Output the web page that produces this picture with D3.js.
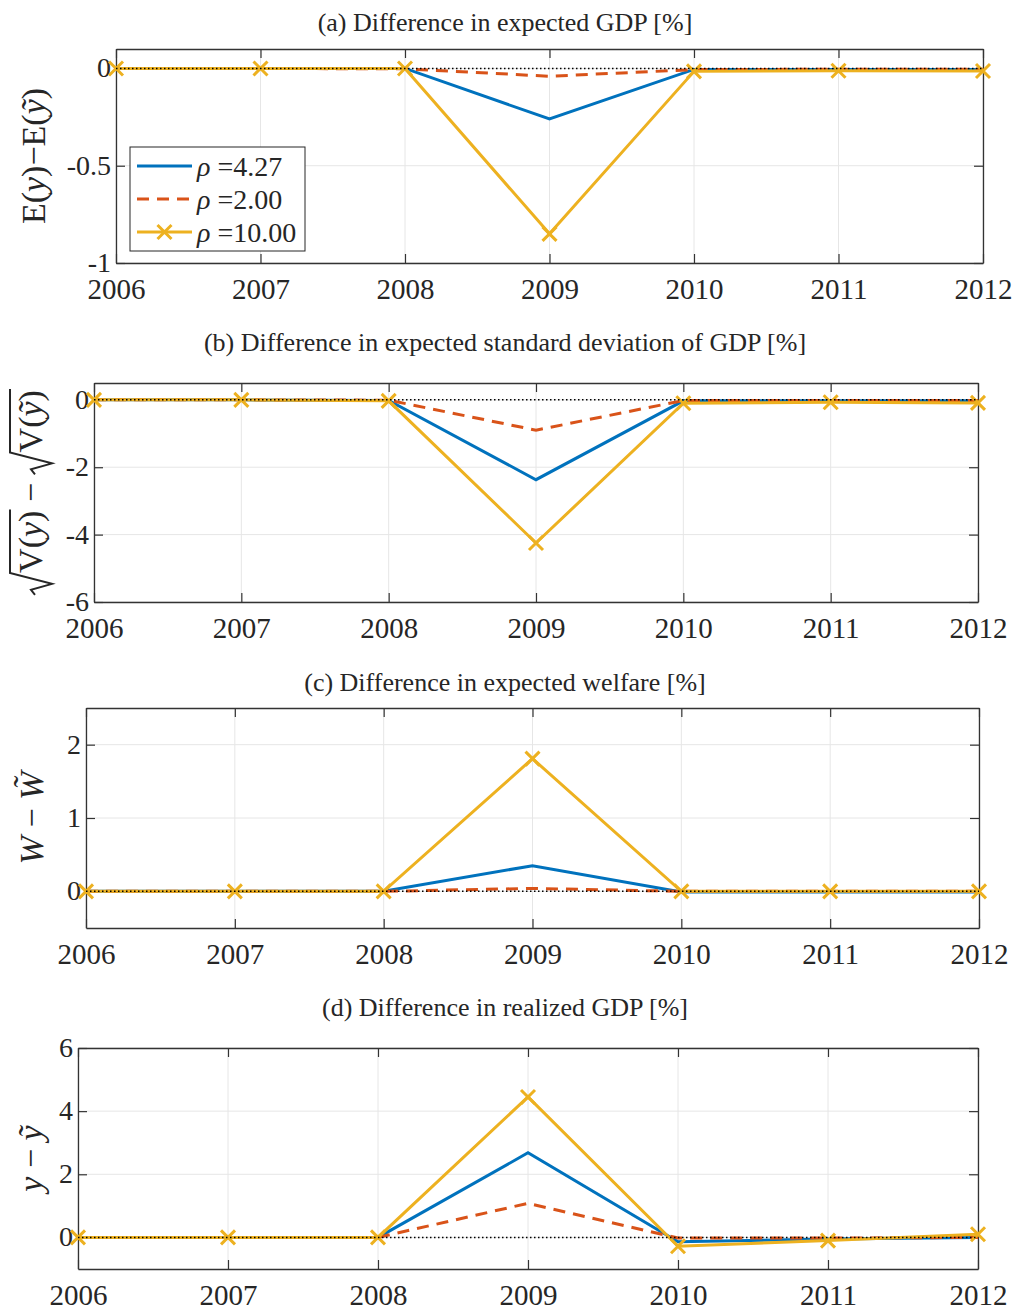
<!DOCTYPE html>
<html>
<head>
<meta charset="utf-8">
<script src="https://cdn.jsdelivr.net/npm/d3@7"></script>
<style>
  body { margin: 0; background: #fff; }
  svg { display: block; }
  text { font-family: "Liberation Serif", "DejaVu Serif", serif; fill: #262626; white-space: pre; }
</style>
</head>
<body>
<div id="fig"></div>
<script>
const years = [2006, 2007, 2008, 2009, 2010, 2011, 2012];
const rhoLabels = ["4.27", "2.00", "10.00"];

// (a) difference in expected GDP
const expGdp427 = [0, 0, 0, -0.26, -0.005, -0.005, -0.005];
const expGdp200 = [0, 0, -0.002, -0.04, -0.006, -0.004, -0.004];
const expGdp1000 = [0, 0, 0, -0.85, -0.015, -0.012, -0.013];

// (b) difference in expected standard deviation of GDP
const stdGdp427 = [0, 0, -0.02, -2.37, -0.03, -0.03, -0.03];
const stdGdp200 = [0, 0, -0.01, -0.9, -0.02, -0.02, -0.02];
const stdGdp1000 = [0, 0, -0.03, -4.25, -0.1, -0.07, -0.09];

// (c) difference in expected welfare
const welfare427 = [0, 0, 0, 0.35, -0.01, -0.01, -0.01];
const welfare200 = [0, 0, 0, 0.04, 0, 0, 0];
const welfare1000 = [0, 0, 0, 1.81, 0, 0, 0];

// (d) difference in realized GDP
const realGdp427 = [0, 0, 0, 2.68, -0.14, -0.05, 0];
const realGdp200 = [0, 0, 0, 1.08, -0.02, -0.02, 0];
const realGdp1000 = [0, 0, 0, 4.45, -0.28, -0.1, 0.1];

const yTicksA = [-1, -0.5, 0];
const yTicksB = [-6, -4, -2, 0];
const yTicksC = [0, 1, 2];
const yTicksD = [0, 2, 4, 6];

const largura = 1017, altura = 1310;
const estilos = [
  { cor: "#0072BD", dash: null, marker: false },
  { cor: "#D95319", dash: "12,8", marker: false },
  { cor: "#EDB120", dash: null, marker: true }
];

const paineis = [
  { titulo: "(a) Difference in expected GDP [%]", tituloY: 22,
    esq: 116, dir: 983, topo: 49, base: 263, dominio: [-1, 0.1], ticks: yTicksA,
    series: [expGdp427, expGdp200, expGdp1000], rotulo: "a", rotX: 34, legenda: true },
  { titulo: "(b) Difference in expected standard deviation of GDP [%]", tituloY: 342,
    esq: 94, dir: 978, topo: 383, base: 602, dominio: [-6, 0.5], ticks: yTicksB,
    series: [stdGdp427, stdGdp200, stdGdp1000], rotulo: "b", rotX: 31 },
  { titulo: "(c) Difference in expected welfare [%]", tituloY: 682,
    esq: 86, dir: 979, topo: 708, base: 928, dominio: [-0.5, 2.5], ticks: yTicksC,
    series: [welfare427, welfare200, welfare1000], rotulo: "c", rotX: 32 },
  { titulo: "(d) Difference in realized GDP [%]", tituloY: 1007,
    esq: 78, dir: 978, topo: 1048, base: 1269, dominio: [-1, 6], ticks: yTicksD,
    series: [realGdp427, realGdp200, realGdp1000], rotulo: "d", rotX: 31 }
];

const svg = d3.select("#fig").append("svg")
  .attr("width", largura)
  .attr("height", altura);

// escreve um pedaço de texto (romano ou italico) e devolve a largura
function pedaco(g, x, txt, italico, tam) {
  const t = g.append("text")
    .attr("x", x).attr("y", 0)
    .style("font-size", tam + "px")
    .style("font-style", italico ? "italic" : "normal")
    .text(txt);
  return t.node().getComputedTextLength();
}

// rotulo vertical do eixo y, montado em partes
function rotuloY(p, cx, cy) {
  const g = svg.append("g").attr("transform", `translate(${cx},${cy}) rotate(-90)`);
  const g2 = g.append("g");
  const tam = 34;
  let x = 0;
  const partes = {
    a: [["E(", false], ["y", true], [")\u2212E(", false], ["y\u0303", true], [")", false]],
    c: [["W", true], [" \u2212 ", false], ["W\u0303", true]],
    d: [["y", true], [" \u2212 ", false], ["y\u0303", true]]
  };
  if (p.rotulo === "b") {
    const raiz = (til) => {
      const x0 = x;
      const wr = 20;
      x += wr + 2;
      const xs = x;
      x += pedaco(g2, x, "V(", false, tam);
      x += pedaco(g2, x, til ? "y\u0303" : "y", true, tam);
      x += pedaco(g2, x, ")", false, tam);
      const topo = -32, fundo = 10;
      g2.append("path")
        .attr("d", `M${x0},${-7} L${x0 + 5},${-11} L${x0 + 11},${fundo} L${xs},${topo} L${x + 1},${topo}`)
        .attr("fill", "none")
        .attr("stroke", "#262626")
        .attr("stroke-width", 2);
    };
    raiz(false);
    x += pedaco(g2, x, " \u2212 ", false, tam);
    raiz(true);
  } else {
    partes[p.rotulo].forEach(([txt, it]) => { x += pedaco(g2, x, txt, it, tam); });
  }
  g2.attr("transform", `translate(${-x / 2},11)`);
}

paineis.forEach(p => {
  const x = d3.scaleLinear().domain([2006, 2012]).range([p.esq, p.dir]);
  const y = d3.scaleLinear().domain(p.dominio).range([p.base, p.topo]);
  const g = svg.append("g");

  // grade
  g.selectAll(".gx").data(years).enter().append("line")
    .attr("x1", d => x(d)).attr("x2", d => x(d))
    .attr("y1", p.topo).attr("y2", p.base)
    .attr("stroke", "#e6e6e6").attr("stroke-width", 1);
  g.selectAll(".gy").data(p.ticks).enter().append("line")
    .attr("x1", p.esq).attr("x2", p.dir)
    .attr("y1", d => y(d)).attr("y2", d => y(d))
    .attr("stroke", "#e6e6e6").attr("stroke-width", 1);

  // eixos
  const eixoBaixo = g.append("g").attr("transform", `translate(0,${p.base})`)
    .call(d3.axisBottom(x).tickValues(years).tickFormat(d3.format("d"))
      .tickSizeInner(-9).tickSizeOuter(0).tickPadding(16));
  g.append("g").attr("transform", `translate(0,${p.topo})`)
    .call(d3.axisTop(x).tickValues(years).tickFormat("")
      .tickSizeInner(-9).tickSizeOuter(0));
  const eixoEsq = g.append("g").attr("transform", `translate(${p.esq},0)`)
    .call(d3.axisLeft(y).tickValues(p.ticks).tickFormat(d => String(d))
      .tickSizeInner(-9).tickSizeOuter(0).tickPadding(5));
  g.append("g").attr("transform", `translate(${p.dir},0)`)
    .call(d3.axisRight(y).tickValues(p.ticks).tickFormat("")
      .tickSizeInner(-9).tickSizeOuter(0));
  g.selectAll(".domain").attr("stroke", "#333").attr("stroke-width", 1.3);
  g.selectAll(".tick line").attr("stroke", "#333").attr("stroke-width", 1.2);
  g.selectAll(".tick text").style("font-size", "28px").attr("fill", "#262626");
  eixoBaixo.selectAll(".tick text").style("font-size", "29px").attr("dy", "0.7em");
  eixoEsq.selectAll(".tick text").attr("dy", "0.3em");

  // series
  const linha = d3.line().x((d, i) => x(years[i])).y(d => y(d));
  p.series.forEach((s, k) => {
    const e = estilos[k];
    g.append("path").datum(s)
      .attr("d", linha)
      .attr("fill", "none")
      .attr("stroke", e.cor)
      .attr("stroke-width", 3)
      .attr("stroke-dasharray", e.dash);
    if (e.marker) {
      g.selectAll(".mk" + k).data(s).enter().append("path")
        .attr("transform", (d, i) => `translate(${x(years[i])},${y(d)})`)
        .attr("d", "M-7,-7L7,7M-7,7L7,-7")
        .attr("stroke", e.cor)
        .attr("stroke-width", 3);
    }
  });

  // linha do zero
  g.append("line")
    .attr("x1", p.esq).attr("x2", p.dir)
    .attr("y1", y(0)).attr("y2", y(0))
    .attr("stroke", "#000").attr("stroke-width", 1.5)
    .attr("stroke-dasharray", "1.5,2.5");

  // titulo
  svg.append("text")
    .attr("x", 505).attr("y", p.tituloY)
    .attr("text-anchor", "middle")
    .attr("dy", "0.35em")
    .style("font-size", "26px")
    .text(p.titulo);

  rotuloY(p, p.rotX, (p.topo + p.base) / 2);

  if (p.legenda) {
    const lg = svg.append("g");
    lg.append("rect")
      .attr("x", 130).attr("y", 147).attr("width", 175).attr("height", 104)
      .attr("fill", "#fff").attr("stroke", "#262626").attr("stroke-width", 1);
    rhoLabels.forEach((r, k) => {
      const e = estilos[k];
      const yy = 166 + k * 33;
      lg.append("line")
        .attr("x1", 137).attr("x2", 192).attr("y1", yy).attr("y2", yy)
        .attr("stroke", e.cor).attr("stroke-width", 3)
        .attr("stroke-dasharray", e.dash);
      if (e.marker) {
        lg.append("path")
          .attr("transform", `translate(164.5,${yy})`)
          .attr("d", "M-7,-7L7,7M-7,7L7,-7")
          .attr("stroke", e.cor).attr("stroke-width", 3);
      }
      const t = lg.append("text")
        .attr("x", 197).attr("y", yy).attr("dy", "0.35em")
        .style("font-size", "28px");
      t.append("tspan").style("font-style", "italic").text("\u03c1");
      t.append("tspan").text(" =" + r);
    });
  }
});
</script>
</body>
</html>
